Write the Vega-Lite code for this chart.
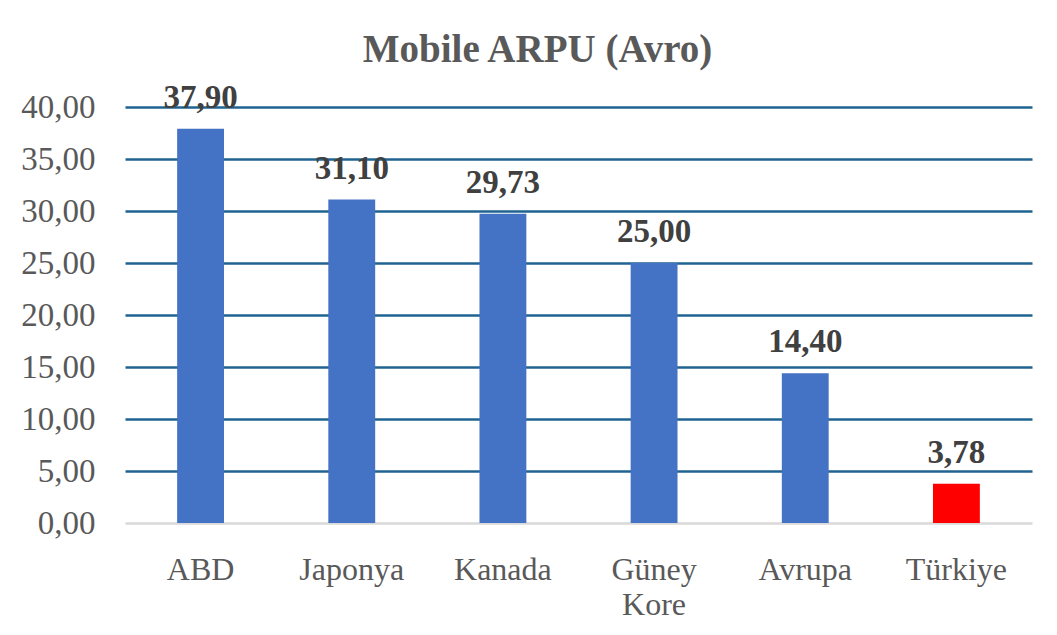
{
  "$schema": "https://vega.github.io/schema/vega-lite/v6.json",
  "width": 907,
  "height": 416,
  "autosize": {"type": "none"},
  "padding": {"left": 125, "top": 107, "right": 25, "bottom": 112},
  "background": "white",
  "title": {
    "text": "Mobile ARPU (Avro)",
    "font": "Liberation Serif",
    "fontSize": 39,
    "fontWeight": "bold",
    "color": "#595959",
    "anchor": "middle",
    "frame": "group",
    "dx": -41,
    "offset": 12
  },
  "data": {
    "values": [
      {"country": "ABD", "arpu": 37.90},
      {"country": "Japonya", "arpu": 31.10},
      {"country": "Kanada", "arpu": 29.73},
      {"country": "Güney Kore", "arpu": 25.00},
      {"country": "Avrupa", "arpu": 14.40},
      {"country": "Türkiye", "arpu": 3.78}
    ]
  },
  "encoding": {
    "x": {
      "field": "country",
      "type": "nominal",
      "sort": null,
      "scale": {"paddingInner": 0.69, "paddingOuter": 0.345},
      "axis": {
        "title": null,
        "labelAngle": 0,
        "ticks": false,
        "domain": false,
        "labelFont": "Liberation Serif",
        "labelFontSize": 32,
        "labelColor": "#595959",
        "labelPadding": 31,
        "labelBaseline": "top",
        "labelLineHeight": 35,
        "labelExpr": "split(datum.label, ' ')"
      }
    },
    "y": {
      "field": "arpu",
      "type": "quantitative",
      "scale": {"domain": [0, 40], "nice": false},
      "axis": {
        "title": null,
        "values": [0, 5, 10, 15, 20, 25, 30, 35, 40],
        "ticks": false,
        "domain": false,
        "labelFont": "Liberation Serif",
        "labelFontSize": 33,
        "labelColor": "#595959",
        "labelPadding": 30,
        "labelExpr": "replace(format(datum.value, '.2f'), '.', ',')",
        "gridColor": {"condition": {"test": "datum.value === 0", "value": "#D9D9D9"}, "value": "#1F6391"},
        "gridWidth": 2.5
      }
    }
  },
  "layer": [
    {
      "mark": {"type": "bar"},
      "encoding": {
        "color": {
          "condition": {"test": "datum.country === 'Türkiye'", "value": "#FF0000"},
          "value": "#4472C4"
        }
      }
    },
    {
      "mark": {
        "type": "text",
        "font": "Liberation Serif",
        "fontSize": 33,
        "fontWeight": "bold",
        "color": "#404040",
        "baseline": "alphabetic",
        "dy": -21
      },
      "encoding": {
        "text": {"field": "arpu", "type": "quantitative", "format": ".2f"}
      }
    }
  ],
  "config": {
    "locale": {"number": {"decimal": ",", "thousands": ".", "grouping": [3], "currency": ["", " €"]}},
    "view": {"stroke": null}
  }
}
